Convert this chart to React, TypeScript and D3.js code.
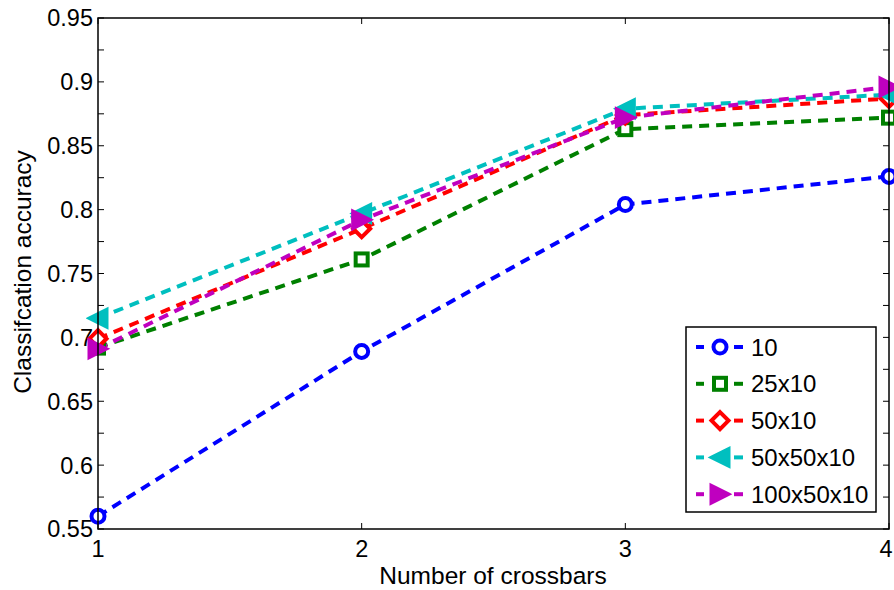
import React from 'react';
import * as d3 from 'd3';

const crossbars = [1, 2, 3, 4];
const acc10 = [0.56, 0.689, 0.804, 0.826];
const acc25x10 = [0.692, 0.761, 0.863, 0.872];
const acc50x10 = [0.699, 0.785, 0.874, 0.887];
const acc50x50x10 = [0.715, 0.797, 0.879, 0.89];
const acc100x50x10 = [0.691, 0.792, 0.872, 0.896];
const seriesNames = ['10', '25x10', '50x10', '50x50x10', '100x50x10'];
const yTicks = [0.55, 0.6, 0.65, 0.7, 0.75, 0.8, 0.85, 0.9, 0.95];
const yMinorTicks = [0.575, 0.625, 0.675, 0.725, 0.775, 0.825, 0.875, 0.925];

const colors = ['#0000ff', '#008000', '#ff0000', '#00bfbf', '#bf00bf'];
const shapes = ['circle', 'square', 'diamond', 'left', 'right'];
const font = '"Liberation Sans", Arial, Helvetica, sans-serif';

const W = 894;
const H = 590;
const left = 98;
const right = 889;
const top = 18;
const bottom = 529;

const Marker = ({ shape, color, x, y }: { shape: string; color: string; x: number; y: number }) => {
  if (shape === 'circle') {
    return <circle cx={x} cy={y} r={6.5} fill="white" stroke={color} strokeWidth={4} />;
  }
  if (shape === 'square') {
    return <rect x={x - 6} y={y - 6} width={12} height={12} fill="white" stroke={color} strokeWidth={4} />;
  }
  if (shape === 'diamond') {
    const d = 8.5;
    return (
      <path d={`M${x},${y - d}L${x + d},${y}L${x},${y + d}L${x - d},${y}Z`} fill="white" stroke={color} strokeWidth={4} strokeLinejoin="miter" />
    );
  }
  const s = 9;
  const p = shape === 'left'
    ? `M${x - s},${y}L${x + s},${y - s}L${x + s},${y + s}Z`
    : `M${x + s},${y}L${x - s},${y - s}L${x - s},${y + s}Z`;
  return <path d={p} fill={color} stroke={color} strokeWidth={3} strokeLinejoin="miter" />;
};

export default function App() {
  const x = d3.scaleLinear().domain([1, 4]).range([left, right]);
  const y = d3.scaleLinear().domain([0.55, 0.95]).range([bottom, top]);
  const series = [acc10, acc25x10, acc50x10, acc50x50x10, acc100x50x10];

  const line = d3
    .line<number>()
    .x((_, i) => x(crossbars[i]))
    .y((d) => y(d));

  // legend box
  const lx = 686;
  const ly = 327;
  const lw = 190;
  const lh = 185;
  const rowY = (i: number) => 347 + i * 36.8;

  return (
    <div style={{ position: 'fixed', left: 0, top: 0 }}>
      <svg width={W} height={H} style={{ display: 'block', background: 'white' }} fontFamily={font}>
        <defs>
          <clipPath id="plot">
            <rect x={left - 12} y={top - 12} width={right - left + 24} height={bottom - top + 24} />
          </clipPath>
        </defs>

        {/* ticks */}
        {[...yTicks, ...yMinorTicks].map((t) => (
          <g key={'yt' + t} stroke="black" strokeWidth={1}>
            <line x1={left} x2={left + 6} y1={y(t)} y2={y(t)} />
            <line x1={right} x2={right - 6} y1={y(t)} y2={y(t)} />
          </g>
        ))}
        {crossbars.map((t) => (
          <g key={'xt' + t} stroke="black" strokeWidth={1}>
            <line x1={x(t)} x2={x(t)} y1={bottom} y2={bottom - 6} />
            <line x1={x(t)} x2={x(t)} y1={top} y2={top + 6} />
          </g>
        ))}

        {yTicks.map((t) => (
          <text key={'yl' + t} x={left - 5} y={y(t)} dy="0.36em" textAnchor="end" fontSize={23.5}>
            {d3.format('~g')(t)}
          </text>
        ))}
        {crossbars.map((t) => (
          <text key={'xl' + t} x={Math.min(x(t), W - 8)} y={557} textAnchor="middle" fontSize={23.5}>
            {t}
          </text>
        ))}

        <text x={493} y={584} textAnchor="middle" fontSize={24.5}>
          Number of crossbars
        </text>
        <text transform={`translate(31,272) rotate(-90)`} textAnchor="middle" fontSize={24.5}>
          Classifcation accuracy
        </text>

        {/* series */}
        <g clipPath="url(#plot)">
          {series.map((s, i) => (
            <path key={'l' + i} d={line(s) ?? ''} fill="none" stroke={colors[i]} strokeWidth={4} strokeDasharray="10,7" />
          ))}
          {series.map((s, i) =>
            s.map((v, j) => <Marker key={`m${i}-${j}`} shape={shapes[i]} color={colors[i]} x={x(crossbars[j])} y={y(v)} />)
          )}
        </g>

        {/* axes box */}
        <rect x={left} y={top} width={right - left} height={bottom - top} fill="none" stroke="black" strokeWidth={1.5} />

        {/* legend */}
        <rect x={lx} y={ly} width={lw} height={lh} fill="white" stroke="black" strokeWidth={1.5} />
        {seriesNames.map((name, i) => (
          <g key={'lg' + i}>
            <line x1={696} x2={704} y1={rowY(i)} y2={rowY(i)} stroke={colors[i]} strokeWidth={4} />
            <line x1={734} x2={743} y1={rowY(i)} y2={rowY(i)} stroke={colors[i]} strokeWidth={4} />
            <Marker shape={shapes[i]} color={colors[i]} x={720} y={rowY(i)} />
            <text x={751} y={rowY(i)} dy="0.36em" fontSize={24}>
              {name}
            </text>
          </g>
        ))}
      </svg>
    </div>
  );
}
